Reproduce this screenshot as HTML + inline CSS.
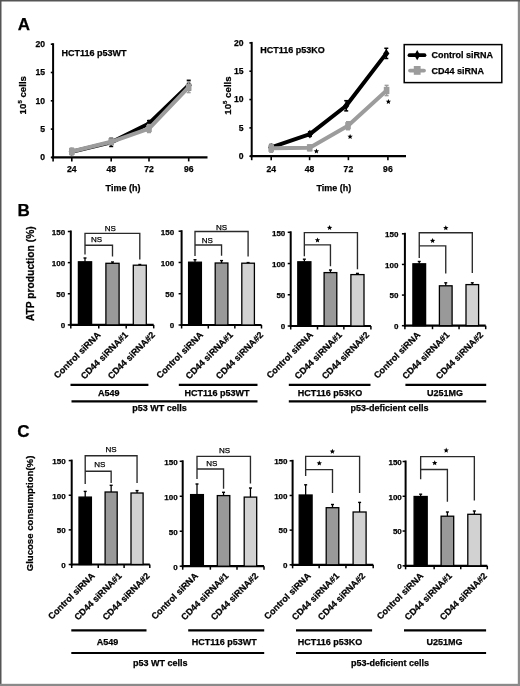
<!DOCTYPE html>
<html><head><meta charset="utf-8"><style>
html,body{margin:0;padding:0;background:#fff;}
body{width:520px;height:686px;overflow:hidden;position:relative;}
svg{position:absolute;left:0;top:0;font-family:"Liberation Sans", sans-serif;will-change:transform;}
</style></head><body>
<svg width="520" height="686" viewBox="0 0 520 686">
<rect x="517.8" y="0" width="2.2" height="686" fill="#8a8a8a"/>
<rect x="0" y="0" width="520" height="1.5" fill="#555"/>
<rect x="0" y="0" width="1.5" height="686" fill="#555"/>
<rect x="0" y="683.8" width="520" height="2.2" fill="#8a8a8a"/>
<text x="17.7" y="30.2" font-size="17" font-weight="700" text-anchor="start" fill="#000" stroke="#000" stroke-width="0.25">A</text>
<text x="17.6" y="216" font-size="17" font-weight="700" text-anchor="start" fill="#000" stroke="#000" stroke-width="0.25">B</text>
<text x="17.2" y="436.5" font-size="17" font-weight="700" text-anchor="start" fill="#000" stroke="#000" stroke-width="0.25">C</text>
<line x1="53.1" y1="43.2" x2="53.1" y2="158.4" stroke="#000" stroke-width="2" stroke-linecap="butt"/>
<line x1="51.6" y1="157.4" x2="207.5" y2="157.4" stroke="#000" stroke-width="2.2" stroke-linecap="butt"/>
<line x1="50.8" y1="157.4" x2="53.1" y2="157.4" stroke="#000" stroke-width="1.6" stroke-linecap="butt"/>
<text x="45.0" y="160.3" font-size="8.6" font-weight="700" text-anchor="end" fill="#000" stroke="#000" stroke-width="0.25">0</text>
<line x1="50.8" y1="129.1" x2="53.1" y2="129.1" stroke="#000" stroke-width="1.6" stroke-linecap="butt"/>
<text x="45.0" y="132.0" font-size="8.6" font-weight="700" text-anchor="end" fill="#000" stroke="#000" stroke-width="0.25">5</text>
<line x1="50.8" y1="100.8" x2="53.1" y2="100.8" stroke="#000" stroke-width="1.6" stroke-linecap="butt"/>
<text x="45.0" y="103.7" font-size="8.6" font-weight="700" text-anchor="end" fill="#000" stroke="#000" stroke-width="0.25">10</text>
<line x1="50.8" y1="72.5" x2="53.1" y2="72.5" stroke="#000" stroke-width="1.6" stroke-linecap="butt"/>
<text x="45.0" y="75.4" font-size="8.6" font-weight="700" text-anchor="end" fill="#000" stroke="#000" stroke-width="0.25">15</text>
<line x1="50.8" y1="44.2" x2="53.1" y2="44.2" stroke="#000" stroke-width="1.6" stroke-linecap="butt"/>
<text x="45.0" y="47.1" font-size="8.6" font-weight="700" text-anchor="end" fill="#000" stroke="#000" stroke-width="0.25">20</text>
<line x1="53.1" y1="157.4" x2="53.1" y2="161.4" stroke="#000" stroke-width="1.6" stroke-linecap="butt"/>
<line x1="71.8" y1="157.4" x2="71.8" y2="161.4" stroke="#000" stroke-width="1.6" stroke-linecap="butt"/>
<line x1="111.2" y1="157.4" x2="111.2" y2="161.4" stroke="#000" stroke-width="1.6" stroke-linecap="butt"/>
<line x1="149.0" y1="157.4" x2="149.0" y2="161.4" stroke="#000" stroke-width="1.6" stroke-linecap="butt"/>
<line x1="188.7" y1="157.4" x2="188.7" y2="161.4" stroke="#000" stroke-width="1.6" stroke-linecap="butt"/>
<text x="71.8" y="171.8" font-size="8.6" font-weight="700" text-anchor="middle" fill="#000" stroke="#000" stroke-width="0.25">24</text>
<text x="111.2" y="171.8" font-size="8.6" font-weight="700" text-anchor="middle" fill="#000" stroke="#000" stroke-width="0.25">48</text>
<text x="149.0" y="171.8" font-size="8.6" font-weight="700" text-anchor="middle" fill="#000" stroke="#000" stroke-width="0.25">72</text>
<text x="188.7" y="171.8" font-size="8.6" font-weight="700" text-anchor="middle" fill="#000" stroke="#000" stroke-width="0.25">96</text>
<text x="123" y="191.3" font-size="9" font-weight="700" text-anchor="middle" fill="#000" stroke="#000" stroke-width="0.25">Time (h)</text>
<text x="25.6" y="95.2" font-size="9.7" font-weight="700" text-anchor="middle" fill="#000" stroke="#000" stroke-width="0.25" transform="rotate(-90 25.6 95.2)">10<tspan font-size="6" dy="-3.6">5</tspan><tspan dy="3.6"> cells</tspan></text>
<text x="61.5" y="56.1" font-size="9" font-weight="700" text-anchor="start" fill="#000" stroke="#000" stroke-width="0.25">HCT116 p53WT</text>
<line x1="111.2" y1="138.33" x2="111.2" y2="146.48" stroke="#000" stroke-width="1.5" stroke-linecap="butt"/>
<line x1="109.2" y1="138.33" x2="113.2" y2="138.33" stroke="#000" stroke-width="1.5" stroke-linecap="butt"/>
<line x1="109.2" y1="146.48" x2="113.2" y2="146.48" stroke="#000" stroke-width="1.5" stroke-linecap="butt"/>
<line x1="149.0" y1="120.61" x2="149.0" y2="126.27" stroke="#000" stroke-width="1.5" stroke-linecap="butt"/>
<line x1="147.0" y1="120.61" x2="151.0" y2="120.61" stroke="#000" stroke-width="1.5" stroke-linecap="butt"/>
<line x1="147.0" y1="126.27" x2="151.0" y2="126.27" stroke="#000" stroke-width="1.5" stroke-linecap="butt"/>
<line x1="188.7" y1="80.31" x2="188.7" y2="90.16" stroke="#000" stroke-width="1.5" stroke-linecap="butt"/>
<line x1="186.7" y1="80.31" x2="190.7" y2="80.31" stroke="#000" stroke-width="1.5" stroke-linecap="butt"/>
<line x1="186.7" y1="90.16" x2="190.7" y2="90.16" stroke="#000" stroke-width="1.5" stroke-linecap="butt"/>
<polyline points="71.8,151.74 111.2,142.4 149.0,123.44 188.7,85.23" fill="none" stroke="#000" stroke-width="4" stroke-linejoin="round"/>
<path d="M71.8 147.44 L74.9 151.74 L71.8 156.04 L68.7 151.74 Z" fill="#000"/>
<path d="M111.2 138.1 L114.3 142.4 L111.2 146.7 L108.1 142.4 Z" fill="#000"/>
<path d="M149.0 119.14 L152.1 123.44 L149.0 127.74 L145.9 123.44 Z" fill="#000"/>
<path d="M188.7 80.94 L191.8 85.23 L188.7 89.53 L185.6 85.23 Z" fill="#000"/>
<line x1="71.8" y1="148.12" x2="71.8" y2="154.91" stroke="#9c9c9c" stroke-width="1.5" stroke-linecap="butt"/>
<line x1="69.8" y1="148.12" x2="73.8" y2="148.12" stroke="#9c9c9c" stroke-width="1.5" stroke-linecap="butt"/>
<line x1="69.8" y1="154.91" x2="73.8" y2="154.91" stroke="#9c9c9c" stroke-width="1.5" stroke-linecap="butt"/>
<line x1="111.2" y1="139.51" x2="111.2" y2="144.04" stroke="#9c9c9c" stroke-width="1.5" stroke-linecap="butt"/>
<line x1="109.2" y1="139.51" x2="113.2" y2="139.51" stroke="#9c9c9c" stroke-width="1.5" stroke-linecap="butt"/>
<line x1="109.2" y1="144.04" x2="113.2" y2="144.04" stroke="#9c9c9c" stroke-width="1.5" stroke-linecap="butt"/>
<line x1="149.0" y1="124.57" x2="149.0" y2="132.5" stroke="#9c9c9c" stroke-width="1.5" stroke-linecap="butt"/>
<line x1="147.0" y1="124.57" x2="151.0" y2="124.57" stroke="#9c9c9c" stroke-width="1.5" stroke-linecap="butt"/>
<line x1="147.0" y1="132.5" x2="151.0" y2="132.5" stroke="#9c9c9c" stroke-width="1.5" stroke-linecap="butt"/>
<line x1="188.7" y1="81.84" x2="188.7" y2="92.59" stroke="#9c9c9c" stroke-width="1.5" stroke-linecap="butt"/>
<line x1="186.7" y1="81.84" x2="190.7" y2="81.84" stroke="#9c9c9c" stroke-width="1.5" stroke-linecap="butt"/>
<line x1="186.7" y1="92.59" x2="190.7" y2="92.59" stroke="#9c9c9c" stroke-width="1.5" stroke-linecap="butt"/>
<polyline points="71.8,151.51 111.2,141.78 149.0,128.53 188.7,87.22" fill="none" stroke="#9c9c9c" stroke-width="4" stroke-linejoin="round"/>
<rect x="69.0" y="147.91" width="5.6" height="7.2" fill="#9c9c9c"/>
<rect x="108.4" y="138.18" width="5.6" height="7.2" fill="#9c9c9c"/>
<rect x="146.2" y="124.93" width="5.6" height="7.2" fill="#9c9c9c"/>
<rect x="185.9" y="83.62" width="5.6" height="7.2" fill="#9c9c9c"/>
<line x1="251.7" y1="41.9" x2="251.7" y2="157.2" stroke="#000" stroke-width="2" stroke-linecap="butt"/>
<line x1="250.2" y1="156.2" x2="406" y2="156.2" stroke="#000" stroke-width="2.2" stroke-linecap="butt"/>
<line x1="249.4" y1="156.2" x2="251.7" y2="156.2" stroke="#000" stroke-width="1.6" stroke-linecap="butt"/>
<text x="243.6" y="159.1" font-size="8.6" font-weight="700" text-anchor="end" fill="#000" stroke="#000" stroke-width="0.25">0</text>
<line x1="249.4" y1="127.88" x2="251.7" y2="127.88" stroke="#000" stroke-width="1.6" stroke-linecap="butt"/>
<text x="243.6" y="130.78" font-size="8.6" font-weight="700" text-anchor="end" fill="#000" stroke="#000" stroke-width="0.25">5</text>
<line x1="249.4" y1="99.55" x2="251.7" y2="99.55" stroke="#000" stroke-width="1.6" stroke-linecap="butt"/>
<text x="243.6" y="102.45" font-size="8.6" font-weight="700" text-anchor="end" fill="#000" stroke="#000" stroke-width="0.25">10</text>
<line x1="249.4" y1="71.22" x2="251.7" y2="71.22" stroke="#000" stroke-width="1.6" stroke-linecap="butt"/>
<text x="243.6" y="74.12" font-size="8.6" font-weight="700" text-anchor="end" fill="#000" stroke="#000" stroke-width="0.25">15</text>
<line x1="249.4" y1="42.9" x2="251.7" y2="42.9" stroke="#000" stroke-width="1.6" stroke-linecap="butt"/>
<text x="243.6" y="45.8" font-size="8.6" font-weight="700" text-anchor="end" fill="#000" stroke="#000" stroke-width="0.25">20</text>
<line x1="251.7" y1="156.2" x2="251.7" y2="160.2" stroke="#000" stroke-width="1.6" stroke-linecap="butt"/>
<line x1="271.2" y1="156.2" x2="271.2" y2="160.2" stroke="#000" stroke-width="1.6" stroke-linecap="butt"/>
<line x1="309.6" y1="156.2" x2="309.6" y2="160.2" stroke="#000" stroke-width="1.6" stroke-linecap="butt"/>
<line x1="348.4" y1="156.2" x2="348.4" y2="160.2" stroke="#000" stroke-width="1.6" stroke-linecap="butt"/>
<line x1="387.9" y1="156.2" x2="387.9" y2="160.2" stroke="#000" stroke-width="1.6" stroke-linecap="butt"/>
<text x="271.2" y="171.8" font-size="8.6" font-weight="700" text-anchor="middle" fill="#000" stroke="#000" stroke-width="0.25">24</text>
<text x="309.6" y="171.8" font-size="8.6" font-weight="700" text-anchor="middle" fill="#000" stroke="#000" stroke-width="0.25">48</text>
<text x="348.4" y="171.8" font-size="8.6" font-weight="700" text-anchor="middle" fill="#000" stroke="#000" stroke-width="0.25">72</text>
<text x="387.9" y="171.8" font-size="8.6" font-weight="700" text-anchor="middle" fill="#000" stroke="#000" stroke-width="0.25">96</text>
<text x="333.8" y="191" font-size="9" font-weight="700" text-anchor="middle" fill="#000" stroke="#000" stroke-width="0.25">Time (h)</text>
<text x="230.6" y="95.5" font-size="9.7" font-weight="700" text-anchor="middle" fill="#000" stroke="#000" stroke-width="0.25" transform="rotate(-90 230.6 95.5)">10<tspan font-size="6" dy="-3.6">5</tspan><tspan dy="3.6"> cells</tspan></text>
<text x="260.2" y="52.6" font-size="9" font-weight="700" text-anchor="start" fill="#000" stroke="#000" stroke-width="0.25">HCT116 p53KO</text>
<line x1="271.2" y1="144.59" x2="271.2" y2="150.25" stroke="#000" stroke-width="1.5" stroke-linecap="butt"/>
<line x1="269.2" y1="144.59" x2="273.2" y2="144.59" stroke="#000" stroke-width="1.5" stroke-linecap="butt"/>
<line x1="269.2" y1="150.25" x2="273.2" y2="150.25" stroke="#000" stroke-width="1.5" stroke-linecap="butt"/>
<line x1="309.9" y1="131.84" x2="309.9" y2="136.37" stroke="#000" stroke-width="1.5" stroke-linecap="butt"/>
<line x1="307.9" y1="131.84" x2="311.9" y2="131.84" stroke="#000" stroke-width="1.5" stroke-linecap="butt"/>
<line x1="307.9" y1="136.37" x2="311.9" y2="136.37" stroke="#000" stroke-width="1.5" stroke-linecap="butt"/>
<line x1="346.2" y1="100.68" x2="346.2" y2="110.88" stroke="#000" stroke-width="1.5" stroke-linecap="butt"/>
<line x1="344.2" y1="100.68" x2="348.2" y2="100.68" stroke="#000" stroke-width="1.5" stroke-linecap="butt"/>
<line x1="344.2" y1="110.88" x2="348.2" y2="110.88" stroke="#000" stroke-width="1.5" stroke-linecap="butt"/>
<line x1="386.3" y1="48.28" x2="386.3" y2="58.48" stroke="#000" stroke-width="1.5" stroke-linecap="butt"/>
<line x1="384.3" y1="48.28" x2="388.3" y2="48.28" stroke="#000" stroke-width="1.5" stroke-linecap="butt"/>
<line x1="384.3" y1="58.48" x2="388.3" y2="58.48" stroke="#000" stroke-width="1.5" stroke-linecap="butt"/>
<polyline points="271.2,147.42 309.9,134.11 346.2,105.78 386.3,53.38" fill="none" stroke="#000" stroke-width="4" stroke-linejoin="round"/>
<path d="M271.2 143.12 L274.3 147.42 L271.2 151.72 L268.1 147.42 Z" fill="#000"/>
<path d="M309.9 129.81 L313.0 134.11 L309.9 138.41 L306.8 134.11 Z" fill="#000"/>
<path d="M346.2 101.48 L349.3 105.78 L346.2 110.08 L343.1 105.78 Z" fill="#000"/>
<path d="M386.3 49.08 L389.4 53.38 L386.3 57.68 L383.2 53.38 Z" fill="#000"/>
<line x1="271.2" y1="144.3" x2="271.2" y2="152.23" stroke="#9c9c9c" stroke-width="1.5" stroke-linecap="butt"/>
<line x1="269.2" y1="144.3" x2="273.2" y2="144.3" stroke="#9c9c9c" stroke-width="1.5" stroke-linecap="butt"/>
<line x1="269.2" y1="152.23" x2="273.2" y2="152.23" stroke="#9c9c9c" stroke-width="1.5" stroke-linecap="butt"/>
<line x1="309.7" y1="144.98" x2="309.7" y2="150.65" stroke="#9c9c9c" stroke-width="1.5" stroke-linecap="butt"/>
<line x1="307.7" y1="144.98" x2="311.7" y2="144.98" stroke="#9c9c9c" stroke-width="1.5" stroke-linecap="butt"/>
<line x1="307.7" y1="150.65" x2="311.7" y2="150.65" stroke="#9c9c9c" stroke-width="1.5" stroke-linecap="butt"/>
<line x1="348.0" y1="121.76" x2="348.0" y2="129.69" stroke="#9c9c9c" stroke-width="1.5" stroke-linecap="butt"/>
<line x1="346.0" y1="121.76" x2="350.0" y2="121.76" stroke="#9c9c9c" stroke-width="1.5" stroke-linecap="butt"/>
<line x1="346.0" y1="129.69" x2="350.0" y2="129.69" stroke="#9c9c9c" stroke-width="1.5" stroke-linecap="butt"/>
<line x1="386.6" y1="85.39" x2="386.6" y2="95.58" stroke="#9c9c9c" stroke-width="1.5" stroke-linecap="butt"/>
<line x1="384.6" y1="85.39" x2="388.6" y2="85.39" stroke="#9c9c9c" stroke-width="1.5" stroke-linecap="butt"/>
<line x1="384.6" y1="95.58" x2="388.6" y2="95.58" stroke="#9c9c9c" stroke-width="1.5" stroke-linecap="butt"/>
<polyline points="271.2,148.27 309.7,147.82 348.0,125.72 386.6,90.49" fill="none" stroke="#9c9c9c" stroke-width="4" stroke-linejoin="round"/>
<rect x="268.4" y="144.67" width="5.6" height="7.2" fill="#9c9c9c"/>
<rect x="306.9" y="144.22" width="5.6" height="7.2" fill="#9c9c9c"/>
<rect x="345.2" y="122.12" width="5.6" height="7.2" fill="#9c9c9c"/>
<rect x="383.8" y="86.89" width="5.6" height="7.2" fill="#9c9c9c"/>
<polygon points="316.40,148.50 317.14,150.28 319.06,150.43 317.60,151.69 318.05,153.57 316.40,152.56 314.75,153.57 315.20,151.69 313.74,150.43 315.66,150.28" fill="#000"/>
<polygon points="350.10,133.90 350.84,135.68 352.76,135.83 351.30,137.09 351.75,138.97 350.10,137.96 348.45,138.97 348.90,137.09 347.44,135.83 349.36,135.68" fill="#000"/>
<polygon points="388.40,98.90 389.14,100.68 391.06,100.83 389.60,102.09 390.05,103.97 388.40,102.96 386.75,103.97 387.20,102.09 385.74,100.83 387.66,100.68" fill="#000"/>
<rect x="404.2" y="44.6" width="97.6" height="38" fill="#fff" stroke="#000" stroke-width="1.5"/>
<line x1="409.5" y1="55.2" x2="424.5" y2="55.2" stroke="#000" stroke-width="3.8" stroke-linecap="round"/>
<path d="M417.2 49.9 L420.1 55.2 L417.2 60.2 L414.3 55.2 Z" fill="#000"/>
<line x1="410" y1="70.6" x2="424" y2="70.6" stroke="#9c9c9c" stroke-width="3.8" stroke-linecap="round"/>
<rect x="413.8" y="66" width="6.8" height="8.8" fill="#9c9c9c"/>
<text x="431.5" y="58.4" font-size="9" font-weight="700" text-anchor="start" fill="#000" stroke="#000" stroke-width="0.25">Control siRNA</text>
<text x="431.5" y="73.9" font-size="9" font-weight="700" text-anchor="start" fill="#000" stroke="#000" stroke-width="0.25">CD44 siRNA</text>
<line x1="70.8" y1="230.5" x2="70.8" y2="325.9" stroke="#000" stroke-width="2" stroke-linecap="butt"/>
<line x1="69.8" y1="324.9" x2="153.7" y2="324.9" stroke="#000" stroke-width="2.2" stroke-linecap="butt"/>
<line x1="67.8" y1="324.9" x2="70.8" y2="324.9" stroke="#000" stroke-width="1.5" stroke-linecap="butt"/>
<text x="65.2" y="328.2" font-size="8" font-weight="700" text-anchor="end" fill="#000" stroke="#000" stroke-width="0.25">0</text>
<line x1="67.8" y1="293.77" x2="70.8" y2="293.77" stroke="#000" stroke-width="1.5" stroke-linecap="butt"/>
<text x="65.2" y="297.07" font-size="8" font-weight="700" text-anchor="end" fill="#000" stroke="#000" stroke-width="0.25">50</text>
<line x1="67.8" y1="262.63" x2="70.8" y2="262.63" stroke="#000" stroke-width="1.5" stroke-linecap="butt"/>
<text x="65.2" y="265.93" font-size="8" font-weight="700" text-anchor="end" fill="#000" stroke="#000" stroke-width="0.25">100</text>
<line x1="67.8" y1="231.5" x2="70.8" y2="231.5" stroke="#000" stroke-width="1.5" stroke-linecap="butt"/>
<text x="65.2" y="234.8" font-size="8" font-weight="700" text-anchor="end" fill="#000" stroke="#000" stroke-width="0.25">150</text>
<line x1="70.8" y1="324.9" x2="70.8" y2="328.4" stroke="#000" stroke-width="1.5" stroke-linecap="butt"/>
<line x1="98.75" y1="324.9" x2="98.75" y2="328.4" stroke="#000" stroke-width="1.5" stroke-linecap="butt"/>
<line x1="126.2" y1="324.9" x2="126.2" y2="328.4" stroke="#000" stroke-width="1.5" stroke-linecap="butt"/>
<line x1="153.7" y1="324.9" x2="153.7" y2="328.4" stroke="#000" stroke-width="1.5" stroke-linecap="butt"/>
<line x1="85.0" y1="258" x2="85.0" y2="261.8" stroke="#000" stroke-width="1.3" stroke-linecap="butt"/>
<line x1="83.5" y1="258" x2="86.5" y2="258" stroke="#000" stroke-width="1.4" stroke-linecap="butt"/>
<rect x="78.4" y="261.8" width="13.2" height="63.1" fill="#000" stroke="#000" stroke-width="1.3"/>
<line x1="112.5" y1="262" x2="112.5" y2="263.3" stroke="#000" stroke-width="1.3" stroke-linecap="butt"/>
<line x1="111.0" y1="262" x2="114.0" y2="262" stroke="#000" stroke-width="1.4" stroke-linecap="butt"/>
<rect x="105.9" y="263.3" width="13.2" height="61.6" fill="#999" stroke="#000" stroke-width="1.3"/>
<line x1="139.8" y1="264.5" x2="139.8" y2="265.2" stroke="#000" stroke-width="1.3" stroke-linecap="butt"/>
<line x1="138.3" y1="264.5" x2="141.3" y2="264.5" stroke="#000" stroke-width="1.4" stroke-linecap="butt"/>
<rect x="133.3" y="265.2" width="13" height="59.7" fill="#d2d2d2" stroke="#000" stroke-width="1.3"/>
<polyline points="85.0,254.6 85.0,233.3 139.8,233.3 139.8,259.4" fill="none" stroke="#2a2a2a" stroke-width="1.35"/>
<polyline points="85.0,245.2 112.5,245.2 112.5,256.5" fill="none" stroke="#2a2a2a" stroke-width="1.35"/>
<text x="110.2" y="230.8" font-size="8" font-weight="400" text-anchor="middle" fill="#000" stroke="#000" stroke-width="0.25">NS</text>
<text x="96.6" y="242.3" font-size="8" font-weight="400" text-anchor="middle" fill="#000" stroke="#000" stroke-width="0.25">NS</text>
<text x="101.1" y="335.5" font-size="9" font-weight="700" text-anchor="end" fill="#000" stroke="#000" stroke-width="0.25" transform="rotate(-45 101.1 335.5)">Control siRNA</text>
<text x="128.6" y="335.5" font-size="9" font-weight="700" text-anchor="end" fill="#000" stroke="#000" stroke-width="0.25" transform="rotate(-45 128.6 335.5)">CD44 siRNA#1</text>
<text x="155.6" y="335.5" font-size="9" font-weight="700" text-anchor="end" fill="#000" stroke="#000" stroke-width="0.25" transform="rotate(-45 155.6 335.5)">CD44 siRNA#2</text>
<line x1="181.6" y1="230.2" x2="181.6" y2="326.0" stroke="#000" stroke-width="2" stroke-linecap="butt"/>
<line x1="180.6" y1="325.0" x2="261.5" y2="325.0" stroke="#000" stroke-width="2.2" stroke-linecap="butt"/>
<line x1="178.6" y1="325.0" x2="181.6" y2="325.0" stroke="#000" stroke-width="1.5" stroke-linecap="butt"/>
<text x="174.2" y="328.3" font-size="8" font-weight="700" text-anchor="end" fill="#000" stroke="#000" stroke-width="0.25">0</text>
<line x1="178.6" y1="293.73" x2="181.6" y2="293.73" stroke="#000" stroke-width="1.5" stroke-linecap="butt"/>
<text x="174.2" y="297.03" font-size="8" font-weight="700" text-anchor="end" fill="#000" stroke="#000" stroke-width="0.25">50</text>
<line x1="178.6" y1="262.47" x2="181.6" y2="262.47" stroke="#000" stroke-width="1.5" stroke-linecap="butt"/>
<text x="174.2" y="265.77" font-size="8" font-weight="700" text-anchor="end" fill="#000" stroke="#000" stroke-width="0.25">100</text>
<line x1="178.6" y1="231.2" x2="181.6" y2="231.2" stroke="#000" stroke-width="1.5" stroke-linecap="butt"/>
<text x="174.2" y="234.5" font-size="8" font-weight="700" text-anchor="end" fill="#000" stroke="#000" stroke-width="0.25">150</text>
<line x1="181.6" y1="325.0" x2="181.6" y2="328.5" stroke="#000" stroke-width="1.5" stroke-linecap="butt"/>
<line x1="208.3" y1="325.0" x2="208.3" y2="328.5" stroke="#000" stroke-width="1.5" stroke-linecap="butt"/>
<line x1="234.85" y1="325.0" x2="234.85" y2="328.5" stroke="#000" stroke-width="1.5" stroke-linecap="butt"/>
<line x1="261.5" y1="325.0" x2="261.5" y2="328.5" stroke="#000" stroke-width="1.5" stroke-linecap="butt"/>
<line x1="195.0" y1="259.7" x2="195.0" y2="262.2" stroke="#000" stroke-width="1.3" stroke-linecap="butt"/>
<line x1="193.5" y1="259.7" x2="196.5" y2="259.7" stroke="#000" stroke-width="1.4" stroke-linecap="butt"/>
<rect x="188.6" y="262.2" width="12.8" height="62.8" fill="#000" stroke="#000" stroke-width="1.3"/>
<line x1="221.55" y1="260.6" x2="221.55" y2="263" stroke="#000" stroke-width="1.3" stroke-linecap="butt"/>
<line x1="220.05" y1="260.6" x2="223.05" y2="260.6" stroke="#000" stroke-width="1.4" stroke-linecap="butt"/>
<rect x="215.2" y="263" width="12.7" height="62.0" fill="#999" stroke="#000" stroke-width="1.3"/>
<line x1="248.1" y1="262.6" x2="248.1" y2="263.2" stroke="#000" stroke-width="1.3" stroke-linecap="butt"/>
<line x1="246.6" y1="262.6" x2="249.6" y2="262.6" stroke="#000" stroke-width="1.4" stroke-linecap="butt"/>
<rect x="241.8" y="263.2" width="12.6" height="61.8" fill="#d2d2d2" stroke="#000" stroke-width="1.3"/>
<polyline points="195.0,256 195.0,231.5 248.1,231.5 248.1,256.5" fill="none" stroke="#2a2a2a" stroke-width="1.35"/>
<polyline points="195.0,245 221.55,245 221.55,255.8" fill="none" stroke="#2a2a2a" stroke-width="1.35"/>
<text x="221.5" y="230.4" font-size="8" font-weight="400" text-anchor="middle" fill="#000" stroke="#000" stroke-width="0.25">NS</text>
<text x="207.2" y="243.1" font-size="8" font-weight="400" text-anchor="middle" fill="#000" stroke="#000" stroke-width="0.25">NS</text>
<text x="203.6" y="335.5" font-size="9" font-weight="700" text-anchor="end" fill="#000" stroke="#000" stroke-width="0.25" transform="rotate(-45 203.6 335.5)">Control siRNA</text>
<text x="233.5" y="335.5" font-size="9" font-weight="700" text-anchor="end" fill="#000" stroke="#000" stroke-width="0.25" transform="rotate(-45 233.5 335.5)">CD44 siRNA#1</text>
<text x="263.8" y="335.5" font-size="9" font-weight="700" text-anchor="end" fill="#000" stroke="#000" stroke-width="0.25" transform="rotate(-45 263.8 335.5)">CD44 siRNA#2</text>
<line x1="290.7" y1="231.3" x2="290.7" y2="327" stroke="#000" stroke-width="2" stroke-linecap="butt"/>
<line x1="289.7" y1="326" x2="370.9" y2="326" stroke="#000" stroke-width="2.2" stroke-linecap="butt"/>
<line x1="287.7" y1="326.0" x2="290.7" y2="326.0" stroke="#000" stroke-width="1.5" stroke-linecap="butt"/>
<text x="285.3" y="329.3" font-size="8" font-weight="700" text-anchor="end" fill="#000" stroke="#000" stroke-width="0.25">0</text>
<line x1="287.7" y1="294.77" x2="290.7" y2="294.77" stroke="#000" stroke-width="1.5" stroke-linecap="butt"/>
<text x="285.3" y="298.07" font-size="8" font-weight="700" text-anchor="end" fill="#000" stroke="#000" stroke-width="0.25">50</text>
<line x1="287.7" y1="263.53" x2="290.7" y2="263.53" stroke="#000" stroke-width="1.5" stroke-linecap="butt"/>
<text x="285.3" y="266.83" font-size="8" font-weight="700" text-anchor="end" fill="#000" stroke="#000" stroke-width="0.25">100</text>
<line x1="287.7" y1="232.3" x2="290.7" y2="232.3" stroke="#000" stroke-width="1.5" stroke-linecap="butt"/>
<text x="285.3" y="235.6" font-size="8" font-weight="700" text-anchor="end" fill="#000" stroke="#000" stroke-width="0.25">150</text>
<line x1="290.7" y1="326" x2="290.7" y2="329.5" stroke="#000" stroke-width="1.5" stroke-linecap="butt"/>
<line x1="317.5" y1="326" x2="317.5" y2="329.5" stroke="#000" stroke-width="1.5" stroke-linecap="butt"/>
<line x1="343.85" y1="326" x2="343.85" y2="329.5" stroke="#000" stroke-width="1.5" stroke-linecap="butt"/>
<line x1="370.9" y1="326" x2="370.9" y2="329.5" stroke="#000" stroke-width="1.5" stroke-linecap="butt"/>
<line x1="304.35" y1="259.2" x2="304.35" y2="261.8" stroke="#000" stroke-width="1.3" stroke-linecap="butt"/>
<line x1="302.85" y1="259.2" x2="305.85" y2="259.2" stroke="#000" stroke-width="1.4" stroke-linecap="butt"/>
<rect x="297.8" y="261.8" width="13.1" height="64.2" fill="#000" stroke="#000" stroke-width="1.3"/>
<line x1="330.45" y1="270" x2="330.45" y2="272.6" stroke="#000" stroke-width="1.3" stroke-linecap="butt"/>
<line x1="328.95" y1="270" x2="331.95" y2="270" stroke="#000" stroke-width="1.4" stroke-linecap="butt"/>
<rect x="324.1" y="272.6" width="12.7" height="53.4" fill="#999" stroke="#000" stroke-width="1.3"/>
<line x1="357.45" y1="273.4" x2="357.45" y2="274.6" stroke="#000" stroke-width="1.3" stroke-linecap="butt"/>
<line x1="355.95" y1="273.4" x2="358.95" y2="273.4" stroke="#000" stroke-width="1.4" stroke-linecap="butt"/>
<rect x="350.9" y="274.6" width="13.1" height="51.4" fill="#d2d2d2" stroke="#000" stroke-width="1.3"/>
<polyline points="304.35,256.2 304.35,232.6 357.45,232.6 357.45,269.2" fill="none" stroke="#2a2a2a" stroke-width="1.35"/>
<polyline points="304.35,244.9 330.45,244.9 330.45,266.2" fill="none" stroke="#2a2a2a" stroke-width="1.35"/>
<polygon points="329.60,225.00 330.34,226.78 332.26,226.93 330.80,228.19 331.25,230.07 329.60,229.06 327.95,230.07 328.40,228.19 326.94,226.93 328.86,226.78" fill="#000"/>
<polygon points="317.50,237.40 318.24,239.18 320.16,239.33 318.70,240.59 319.15,242.47 317.50,241.46 315.85,242.47 316.30,240.59 314.84,239.33 316.76,239.18" fill="#000"/>
<text x="313.7" y="335.5" font-size="9" font-weight="700" text-anchor="end" fill="#000" stroke="#000" stroke-width="0.25" transform="rotate(-45 313.7 335.5)">Control siRNA</text>
<text x="342.5" y="335.5" font-size="9" font-weight="700" text-anchor="end" fill="#000" stroke="#000" stroke-width="0.25" transform="rotate(-45 342.5 335.5)">CD44 siRNA#1</text>
<text x="369.7" y="335.5" font-size="9" font-weight="700" text-anchor="end" fill="#000" stroke="#000" stroke-width="0.25" transform="rotate(-45 369.7 335.5)">CD44 siRNA#2</text>
<line x1="404.9" y1="232.8" x2="404.9" y2="326.7" stroke="#000" stroke-width="2" stroke-linecap="butt"/>
<line x1="403.9" y1="325.7" x2="485.7" y2="325.7" stroke="#000" stroke-width="2.2" stroke-linecap="butt"/>
<line x1="401.9" y1="325.7" x2="404.9" y2="325.7" stroke="#000" stroke-width="1.5" stroke-linecap="butt"/>
<text x="398.4" y="329.0" font-size="8" font-weight="700" text-anchor="end" fill="#000" stroke="#000" stroke-width="0.25">0</text>
<line x1="401.9" y1="295.07" x2="404.9" y2="295.07" stroke="#000" stroke-width="1.5" stroke-linecap="butt"/>
<text x="398.4" y="298.37" font-size="8" font-weight="700" text-anchor="end" fill="#000" stroke="#000" stroke-width="0.25">50</text>
<line x1="401.9" y1="264.43" x2="404.9" y2="264.43" stroke="#000" stroke-width="1.5" stroke-linecap="butt"/>
<text x="398.4" y="267.73" font-size="8" font-weight="700" text-anchor="end" fill="#000" stroke="#000" stroke-width="0.25">100</text>
<line x1="401.9" y1="233.8" x2="404.9" y2="233.8" stroke="#000" stroke-width="1.5" stroke-linecap="butt"/>
<text x="398.4" y="237.1" font-size="8" font-weight="700" text-anchor="end" fill="#000" stroke="#000" stroke-width="0.25">150</text>
<line x1="404.9" y1="325.7" x2="404.9" y2="329.2" stroke="#000" stroke-width="1.5" stroke-linecap="butt"/>
<line x1="432.5" y1="325.7" x2="432.5" y2="329.2" stroke="#000" stroke-width="1.5" stroke-linecap="butt"/>
<line x1="459.05" y1="325.7" x2="459.05" y2="329.2" stroke="#000" stroke-width="1.5" stroke-linecap="butt"/>
<line x1="485.7" y1="325.7" x2="485.7" y2="329.2" stroke="#000" stroke-width="1.5" stroke-linecap="butt"/>
<line x1="419.25" y1="261.5" x2="419.25" y2="263.8" stroke="#000" stroke-width="1.3" stroke-linecap="butt"/>
<line x1="417.75" y1="261.5" x2="420.75" y2="261.5" stroke="#000" stroke-width="1.4" stroke-linecap="butt"/>
<rect x="412.9" y="263.8" width="12.7" height="61.9" fill="#000" stroke="#000" stroke-width="1.3"/>
<line x1="445.75" y1="282.8" x2="445.75" y2="285.8" stroke="#000" stroke-width="1.3" stroke-linecap="butt"/>
<line x1="444.25" y1="282.8" x2="447.25" y2="282.8" stroke="#000" stroke-width="1.4" stroke-linecap="butt"/>
<rect x="439.4" y="285.8" width="12.7" height="39.9" fill="#999" stroke="#000" stroke-width="1.3"/>
<line x1="472.3" y1="282.8" x2="472.3" y2="284.6" stroke="#000" stroke-width="1.3" stroke-linecap="butt"/>
<line x1="470.8" y1="282.8" x2="473.8" y2="282.8" stroke="#000" stroke-width="1.4" stroke-linecap="butt"/>
<rect x="466.0" y="284.6" width="12.6" height="41.1" fill="#d2d2d2" stroke="#000" stroke-width="1.3"/>
<polyline points="419.25,258 419.25,232.7 472.3,232.7 472.3,273" fill="none" stroke="#2a2a2a" stroke-width="1.35"/>
<polyline points="419.25,245.8 445.75,245.8 445.75,273.5" fill="none" stroke="#2a2a2a" stroke-width="1.35"/>
<polygon points="445.80,225.20 446.54,226.98 448.46,227.13 447.00,228.39 447.45,230.27 445.80,229.26 444.15,230.27 444.60,228.39 443.14,227.13 445.06,226.98" fill="#000"/>
<polygon points="432.60,238.00 433.34,239.78 435.26,239.93 433.80,241.19 434.25,243.07 432.60,242.06 430.95,243.07 431.40,241.19 429.94,239.93 431.86,239.78" fill="#000"/>
<text x="420.9" y="335.5" font-size="9" font-weight="700" text-anchor="end" fill="#000" stroke="#000" stroke-width="0.25" transform="rotate(-45 420.9 335.5)">Control siRNA</text>
<text x="450.1" y="335.5" font-size="9" font-weight="700" text-anchor="end" fill="#000" stroke="#000" stroke-width="0.25" transform="rotate(-45 450.1 335.5)">CD44 siRNA#1</text>
<text x="483.8" y="335.5" font-size="9" font-weight="700" text-anchor="end" fill="#000" stroke="#000" stroke-width="0.25" transform="rotate(-45 483.8 335.5)">CD44 siRNA#2</text>
<line x1="71.7" y1="459.6" x2="71.7" y2="565.5" stroke="#000" stroke-width="2" stroke-linecap="butt"/>
<line x1="70.7" y1="564.5" x2="149.8" y2="564.5" stroke="#000" stroke-width="2.2" stroke-linecap="butt"/>
<line x1="68.7" y1="564.5" x2="71.7" y2="564.5" stroke="#000" stroke-width="1.5" stroke-linecap="butt"/>
<text x="65.6" y="567.8" font-size="8" font-weight="700" text-anchor="end" fill="#000" stroke="#000" stroke-width="0.25">0</text>
<line x1="68.7" y1="529.87" x2="71.7" y2="529.87" stroke="#000" stroke-width="1.5" stroke-linecap="butt"/>
<text x="65.6" y="533.17" font-size="8" font-weight="700" text-anchor="end" fill="#000" stroke="#000" stroke-width="0.25">50</text>
<line x1="68.7" y1="495.23" x2="71.7" y2="495.23" stroke="#000" stroke-width="1.5" stroke-linecap="butt"/>
<text x="65.6" y="498.53" font-size="8" font-weight="700" text-anchor="end" fill="#000" stroke="#000" stroke-width="0.25">100</text>
<line x1="68.7" y1="460.6" x2="71.7" y2="460.6" stroke="#000" stroke-width="1.5" stroke-linecap="butt"/>
<text x="65.6" y="463.9" font-size="8" font-weight="700" text-anchor="end" fill="#000" stroke="#000" stroke-width="0.25">150</text>
<line x1="71.7" y1="564.5" x2="71.7" y2="568.0" stroke="#000" stroke-width="1.5" stroke-linecap="butt"/>
<line x1="98.25" y1="564.5" x2="98.25" y2="568.0" stroke="#000" stroke-width="1.5" stroke-linecap="butt"/>
<line x1="124.1" y1="564.5" x2="124.1" y2="568.0" stroke="#000" stroke-width="1.5" stroke-linecap="butt"/>
<line x1="149.8" y1="564.5" x2="149.8" y2="568.0" stroke="#000" stroke-width="1.5" stroke-linecap="butt"/>
<line x1="85.2" y1="491.4" x2="85.2" y2="497.1" stroke="#000" stroke-width="1.3" stroke-linecap="butt"/>
<line x1="83.7" y1="491.4" x2="86.7" y2="491.4" stroke="#000" stroke-width="1.4" stroke-linecap="butt"/>
<rect x="79.0" y="497.1" width="12.4" height="67.4" fill="#000" stroke="#000" stroke-width="1.3"/>
<line x1="111.15" y1="485.3" x2="111.15" y2="492" stroke="#000" stroke-width="1.3" stroke-linecap="butt"/>
<line x1="109.65" y1="485.3" x2="112.65" y2="485.3" stroke="#000" stroke-width="1.4" stroke-linecap="butt"/>
<rect x="105.1" y="492" width="12.1" height="72.5" fill="#999" stroke="#000" stroke-width="1.3"/>
<line x1="137.05" y1="490.6" x2="137.05" y2="493" stroke="#000" stroke-width="1.3" stroke-linecap="butt"/>
<line x1="135.55" y1="490.6" x2="138.55" y2="490.6" stroke="#000" stroke-width="1.4" stroke-linecap="butt"/>
<rect x="131.0" y="493" width="12.1" height="71.5" fill="#d2d2d2" stroke="#000" stroke-width="1.3"/>
<polyline points="85.2,483.9 85.2,455.7 137.05,455.7 137.05,482.9" fill="none" stroke="#2a2a2a" stroke-width="1.35"/>
<polyline points="85.2,471.2 111.15,471.2 111.15,482.9" fill="none" stroke="#2a2a2a" stroke-width="1.35"/>
<text x="111" y="452" font-size="8" font-weight="400" text-anchor="middle" fill="#000" stroke="#000" stroke-width="0.25">NS</text>
<text x="99.8" y="467.3" font-size="8" font-weight="400" text-anchor="middle" fill="#000" stroke="#000" stroke-width="0.25">NS</text>
<text x="95.3" y="576.5" font-size="9" font-weight="700" text-anchor="end" fill="#000" stroke="#000" stroke-width="0.25" transform="rotate(-45 95.3 576.5)">Control siRNA</text>
<text x="122.2" y="576.5" font-size="9" font-weight="700" text-anchor="end" fill="#000" stroke="#000" stroke-width="0.25" transform="rotate(-45 122.2 576.5)">CD44 siRNA#1</text>
<text x="150.4" y="576.5" font-size="9" font-weight="700" text-anchor="end" fill="#000" stroke="#000" stroke-width="0.25" transform="rotate(-45 150.4 576.5)">CD44 siRNA#2</text>
<line x1="182.7" y1="460.3" x2="182.7" y2="567.2" stroke="#000" stroke-width="2" stroke-linecap="butt"/>
<line x1="181.7" y1="566.2" x2="264" y2="566.2" stroke="#000" stroke-width="2.2" stroke-linecap="butt"/>
<line x1="179.7" y1="566.2" x2="182.7" y2="566.2" stroke="#000" stroke-width="1.5" stroke-linecap="butt"/>
<text x="177.7" y="569.5" font-size="8" font-weight="700" text-anchor="end" fill="#000" stroke="#000" stroke-width="0.25">0</text>
<line x1="179.7" y1="531.23" x2="182.7" y2="531.23" stroke="#000" stroke-width="1.5" stroke-linecap="butt"/>
<text x="177.7" y="534.53" font-size="8" font-weight="700" text-anchor="end" fill="#000" stroke="#000" stroke-width="0.25">50</text>
<line x1="179.7" y1="496.27" x2="182.7" y2="496.27" stroke="#000" stroke-width="1.5" stroke-linecap="butt"/>
<text x="177.7" y="499.57" font-size="8" font-weight="700" text-anchor="end" fill="#000" stroke="#000" stroke-width="0.25">100</text>
<line x1="179.7" y1="461.3" x2="182.7" y2="461.3" stroke="#000" stroke-width="1.5" stroke-linecap="butt"/>
<text x="177.7" y="464.6" font-size="8" font-weight="700" text-anchor="end" fill="#000" stroke="#000" stroke-width="0.25">150</text>
<line x1="182.7" y1="566.2" x2="182.7" y2="569.7" stroke="#000" stroke-width="1.5" stroke-linecap="butt"/>
<line x1="210.35" y1="566.2" x2="210.35" y2="569.7" stroke="#000" stroke-width="1.5" stroke-linecap="butt"/>
<line x1="237.0" y1="566.2" x2="237.0" y2="569.7" stroke="#000" stroke-width="1.5" stroke-linecap="butt"/>
<line x1="264" y1="566.2" x2="264" y2="569.7" stroke="#000" stroke-width="1.5" stroke-linecap="butt"/>
<line x1="197.0" y1="484" x2="197.0" y2="494.6" stroke="#000" stroke-width="1.3" stroke-linecap="butt"/>
<line x1="195.5" y1="484" x2="198.5" y2="484" stroke="#000" stroke-width="1.4" stroke-linecap="butt"/>
<rect x="190.6" y="494.6" width="12.8" height="71.6" fill="#000" stroke="#000" stroke-width="1.3"/>
<line x1="223.55" y1="492.3" x2="223.55" y2="495.6" stroke="#000" stroke-width="1.3" stroke-linecap="butt"/>
<line x1="222.05" y1="492.3" x2="225.05" y2="492.3" stroke="#000" stroke-width="1.4" stroke-linecap="butt"/>
<rect x="217.3" y="495.6" width="12.5" height="70.6" fill="#999" stroke="#000" stroke-width="1.3"/>
<line x1="250.45" y1="488" x2="250.45" y2="497.1" stroke="#000" stroke-width="1.3" stroke-linecap="butt"/>
<line x1="248.95" y1="488" x2="251.95" y2="488" stroke="#000" stroke-width="1.4" stroke-linecap="butt"/>
<rect x="244.2" y="497.1" width="12.5" height="69.1" fill="#d2d2d2" stroke="#000" stroke-width="1.3"/>
<polyline points="197.0,479 197.0,456.3 250.45,456.3 250.45,483.4" fill="none" stroke="#2a2a2a" stroke-width="1.35"/>
<polyline points="197.0,469 223.55,469 223.55,488.7" fill="none" stroke="#2a2a2a" stroke-width="1.35"/>
<text x="224.5" y="453" font-size="8" font-weight="400" text-anchor="middle" fill="#000" stroke="#000" stroke-width="0.25">NS</text>
<text x="211.8" y="466.1" font-size="8" font-weight="400" text-anchor="middle" fill="#000" stroke="#000" stroke-width="0.25">NS</text>
<text x="198.5" y="576.5" font-size="9" font-weight="700" text-anchor="end" fill="#000" stroke="#000" stroke-width="0.25" transform="rotate(-45 198.5 576.5)">Control siRNA</text>
<text x="229.0" y="576.5" font-size="9" font-weight="700" text-anchor="end" fill="#000" stroke="#000" stroke-width="0.25" transform="rotate(-45 229.0 576.5)">CD44 siRNA#1</text>
<text x="258.7" y="576.5" font-size="9" font-weight="700" text-anchor="end" fill="#000" stroke="#000" stroke-width="0.25" transform="rotate(-45 258.7 576.5)">CD44 siRNA#2</text>
<line x1="292.6" y1="459.8" x2="292.6" y2="565.8" stroke="#000" stroke-width="2" stroke-linecap="butt"/>
<line x1="291.6" y1="564.8" x2="373.2" y2="564.8" stroke="#000" stroke-width="2.2" stroke-linecap="butt"/>
<line x1="289.6" y1="564.8" x2="292.6" y2="564.8" stroke="#000" stroke-width="1.5" stroke-linecap="butt"/>
<text x="287.5" y="568.1" font-size="8" font-weight="700" text-anchor="end" fill="#000" stroke="#000" stroke-width="0.25">0</text>
<line x1="289.6" y1="530.13" x2="292.6" y2="530.13" stroke="#000" stroke-width="1.5" stroke-linecap="butt"/>
<text x="287.5" y="533.43" font-size="8" font-weight="700" text-anchor="end" fill="#000" stroke="#000" stroke-width="0.25">50</text>
<line x1="289.6" y1="495.47" x2="292.6" y2="495.47" stroke="#000" stroke-width="1.5" stroke-linecap="butt"/>
<text x="287.5" y="498.77" font-size="8" font-weight="700" text-anchor="end" fill="#000" stroke="#000" stroke-width="0.25">100</text>
<line x1="289.6" y1="460.8" x2="292.6" y2="460.8" stroke="#000" stroke-width="1.5" stroke-linecap="butt"/>
<text x="287.5" y="464.1" font-size="8" font-weight="700" text-anchor="end" fill="#000" stroke="#000" stroke-width="0.25">150</text>
<line x1="292.6" y1="564.8" x2="292.6" y2="568.3" stroke="#000" stroke-width="1.5" stroke-linecap="butt"/>
<line x1="319.15" y1="564.8" x2="319.15" y2="568.3" stroke="#000" stroke-width="1.5" stroke-linecap="butt"/>
<line x1="345.95" y1="564.8" x2="345.95" y2="568.3" stroke="#000" stroke-width="1.5" stroke-linecap="butt"/>
<line x1="373.2" y1="564.8" x2="373.2" y2="568.3" stroke="#000" stroke-width="1.5" stroke-linecap="butt"/>
<line x1="305.65" y1="484.8" x2="305.65" y2="495" stroke="#000" stroke-width="1.3" stroke-linecap="butt"/>
<line x1="304.15" y1="484.8" x2="307.15" y2="484.8" stroke="#000" stroke-width="1.4" stroke-linecap="butt"/>
<rect x="299.2" y="495" width="12.9" height="69.8" fill="#000" stroke="#000" stroke-width="1.3"/>
<line x1="332.5" y1="504.5" x2="332.5" y2="507.7" stroke="#000" stroke-width="1.3" stroke-linecap="butt"/>
<line x1="331.0" y1="504.5" x2="334.0" y2="504.5" stroke="#000" stroke-width="1.4" stroke-linecap="butt"/>
<rect x="326.2" y="507.7" width="12.6" height="57.1" fill="#999" stroke="#000" stroke-width="1.3"/>
<line x1="359.6" y1="502.4" x2="359.6" y2="512" stroke="#000" stroke-width="1.3" stroke-linecap="butt"/>
<line x1="358.1" y1="502.4" x2="361.1" y2="502.4" stroke="#000" stroke-width="1.4" stroke-linecap="butt"/>
<rect x="353.1" y="512" width="13" height="52.8" fill="#d2d2d2" stroke="#000" stroke-width="1.3"/>
<polyline points="305.65,476 305.65,456.3 359.6,456.3 359.6,492.9" fill="none" stroke="#2a2a2a" stroke-width="1.35"/>
<polyline points="305.65,469.6 332.5,469.6 332.5,492.9" fill="none" stroke="#2a2a2a" stroke-width="1.35"/>
<polygon points="332.40,448.80 333.14,450.58 335.06,450.73 333.60,451.99 334.05,453.87 332.40,452.86 330.75,453.87 331.20,451.99 329.74,450.73 331.66,450.58" fill="#000"/>
<polygon points="319.30,460.50 320.04,462.28 321.96,462.43 320.50,463.69 320.95,465.57 319.30,464.56 317.65,465.57 318.10,463.69 316.64,462.43 318.56,462.28" fill="#000"/>
<text x="311.3" y="576.5" font-size="9" font-weight="700" text-anchor="end" fill="#000" stroke="#000" stroke-width="0.25" transform="rotate(-45 311.3 576.5)">Control siRNA</text>
<text x="339.8" y="576.5" font-size="9" font-weight="700" text-anchor="end" fill="#000" stroke="#000" stroke-width="0.25" transform="rotate(-45 339.8 576.5)">CD44 siRNA#1</text>
<text x="365.8" y="576.5" font-size="9" font-weight="700" text-anchor="end" fill="#000" stroke="#000" stroke-width="0.25" transform="rotate(-45 365.8 576.5)">CD44 siRNA#2</text>
<line x1="405.6" y1="460.5" x2="405.6" y2="566.8" stroke="#000" stroke-width="2" stroke-linecap="butt"/>
<line x1="404.6" y1="565.8" x2="487.3" y2="565.8" stroke="#000" stroke-width="2.2" stroke-linecap="butt"/>
<line x1="402.6" y1="565.8" x2="405.6" y2="565.8" stroke="#000" stroke-width="1.5" stroke-linecap="butt"/>
<text x="401.8" y="569.1" font-size="8" font-weight="700" text-anchor="end" fill="#000" stroke="#000" stroke-width="0.25">0</text>
<line x1="402.6" y1="531.03" x2="405.6" y2="531.03" stroke="#000" stroke-width="1.5" stroke-linecap="butt"/>
<text x="401.8" y="534.33" font-size="8" font-weight="700" text-anchor="end" fill="#000" stroke="#000" stroke-width="0.25">50</text>
<line x1="402.6" y1="496.27" x2="405.6" y2="496.27" stroke="#000" stroke-width="1.5" stroke-linecap="butt"/>
<text x="401.8" y="499.57" font-size="8" font-weight="700" text-anchor="end" fill="#000" stroke="#000" stroke-width="0.25">100</text>
<line x1="402.6" y1="461.5" x2="405.6" y2="461.5" stroke="#000" stroke-width="1.5" stroke-linecap="butt"/>
<text x="401.8" y="464.8" font-size="8" font-weight="700" text-anchor="end" fill="#000" stroke="#000" stroke-width="0.25">150</text>
<line x1="405.6" y1="565.8" x2="405.6" y2="569.3" stroke="#000" stroke-width="1.5" stroke-linecap="butt"/>
<line x1="434.15" y1="565.8" x2="434.15" y2="569.3" stroke="#000" stroke-width="1.5" stroke-linecap="butt"/>
<line x1="460.75" y1="565.8" x2="460.75" y2="569.3" stroke="#000" stroke-width="1.5" stroke-linecap="butt"/>
<line x1="487.3" y1="565.8" x2="487.3" y2="569.3" stroke="#000" stroke-width="1.5" stroke-linecap="butt"/>
<line x1="420.65" y1="494.2" x2="420.65" y2="496.5" stroke="#000" stroke-width="1.3" stroke-linecap="butt"/>
<line x1="419.15" y1="494.2" x2="422.15" y2="494.2" stroke="#000" stroke-width="1.4" stroke-linecap="butt"/>
<rect x="414.1" y="496.5" width="13.1" height="69.3" fill="#000" stroke="#000" stroke-width="1.3"/>
<line x1="447.4" y1="512" x2="447.4" y2="516.2" stroke="#000" stroke-width="1.3" stroke-linecap="butt"/>
<line x1="445.9" y1="512" x2="448.9" y2="512" stroke="#000" stroke-width="1.4" stroke-linecap="butt"/>
<rect x="441.1" y="516.2" width="12.6" height="49.6" fill="#999" stroke="#000" stroke-width="1.3"/>
<line x1="474.35" y1="511" x2="474.35" y2="514.3" stroke="#000" stroke-width="1.3" stroke-linecap="butt"/>
<line x1="472.85" y1="511" x2="475.85" y2="511" stroke="#000" stroke-width="1.4" stroke-linecap="butt"/>
<rect x="467.8" y="514.3" width="13.1" height="51.5" fill="#d2d2d2" stroke="#000" stroke-width="1.3"/>
<polyline points="420.65,479.2 420.65,456.6 474.35,456.6 474.35,500.5" fill="none" stroke="#2a2a2a" stroke-width="1.35"/>
<polyline points="420.65,469.5 447.4,469.5 447.4,501.8" fill="none" stroke="#2a2a2a" stroke-width="1.35"/>
<polygon points="446.20,447.60 446.94,449.38 448.86,449.53 447.40,450.79 447.85,452.67 446.20,451.66 444.55,452.67 445.00,450.79 443.54,449.53 445.46,449.38" fill="#000"/>
<polygon points="434.70,460.30 435.44,462.08 437.36,462.23 435.90,463.49 436.35,465.37 434.70,464.36 433.05,465.37 433.50,463.49 432.04,462.23 433.96,462.08" fill="#000"/>
<text x="423.9" y="576.5" font-size="9" font-weight="700" text-anchor="end" fill="#000" stroke="#000" stroke-width="0.25" transform="rotate(-45 423.9 576.5)">Control siRNA</text>
<text x="452.5" y="576.5" font-size="9" font-weight="700" text-anchor="end" fill="#000" stroke="#000" stroke-width="0.25" transform="rotate(-45 452.5 576.5)">CD44 siRNA#1</text>
<text x="487.6" y="576.5" font-size="9" font-weight="700" text-anchor="end" fill="#000" stroke="#000" stroke-width="0.25" transform="rotate(-45 487.6 576.5)">CD44 siRNA#2</text>
<text x="33.6" y="273.7" font-size="10.25" font-weight="700" text-anchor="middle" fill="#000" stroke="#000" stroke-width="0.25" transform="rotate(-90 33.6 273.7)">ATP production (%)</text>
<text x="33.0" y="513.5" font-size="9.6" font-weight="700" text-anchor="middle" fill="#000" stroke="#000" stroke-width="0.25" transform="rotate(-90 33.0 513.5)">Glucose consumption(%)</text>
<line x1="70.5" y1="384.9" x2="148.4" y2="384.9" stroke="#000" stroke-width="2.2" stroke-linecap="butt"/>
<text x="108.65" y="395.8" font-size="9" font-weight="700" text-anchor="middle" fill="#000" stroke="#000" stroke-width="0.25">A549</text>
<line x1="178.8" y1="384.9" x2="257.5" y2="384.9" stroke="#000" stroke-width="2.2" stroke-linecap="butt"/>
<text x="217.05" y="395.8" font-size="9" font-weight="700" text-anchor="middle" fill="#000" stroke="#000" stroke-width="0.25">HCT116 p53WT</text>
<line x1="71.5" y1="401.3" x2="257.5" y2="401.3" stroke="#000" stroke-width="2.2" stroke-linecap="butt"/>
<text x="159.5" y="411.2" font-size="9" font-weight="700" text-anchor="middle" fill="#000" stroke="#000" stroke-width="0.25">p53 WT cells</text>
<line x1="288.8" y1="384.9" x2="370.5" y2="384.9" stroke="#000" stroke-width="2.2" stroke-linecap="butt"/>
<text x="330" y="395.8" font-size="9" font-weight="700" text-anchor="middle" fill="#000" stroke="#000" stroke-width="0.25">HCT116 p53KO</text>
<line x1="405.4" y1="384.9" x2="486.2" y2="384.9" stroke="#000" stroke-width="2.2" stroke-linecap="butt"/>
<text x="445" y="395.8" font-size="9" font-weight="700" text-anchor="middle" fill="#000" stroke="#000" stroke-width="0.25">U251MG</text>
<line x1="288.8" y1="401.3" x2="486.2" y2="401.3" stroke="#000" stroke-width="2.2" stroke-linecap="butt"/>
<text x="389.6" y="411.2" font-size="9" font-weight="700" text-anchor="middle" fill="#000" stroke="#000" stroke-width="0.25">p53-deficient cells</text>
<line x1="71.3" y1="630.4" x2="146.5" y2="630.4" stroke="#000" stroke-width="2.2" stroke-linecap="butt"/>
<text x="107.6" y="644.7" font-size="9" font-weight="700" text-anchor="middle" fill="#000" stroke="#000" stroke-width="0.25">A549</text>
<line x1="188.2" y1="630.4" x2="264.2" y2="630.4" stroke="#000" stroke-width="2.2" stroke-linecap="butt"/>
<text x="224.2" y="644.7" font-size="9" font-weight="700" text-anchor="middle" fill="#000" stroke="#000" stroke-width="0.25">HCT116 p53WT</text>
<line x1="71.3" y1="653" x2="264.2" y2="653" stroke="#000" stroke-width="2.2" stroke-linecap="butt"/>
<text x="160.2" y="665.8" font-size="9" font-weight="700" text-anchor="middle" fill="#000" stroke="#000" stroke-width="0.25">p53 WT cells</text>
<line x1="296" y1="630.4" x2="372.1" y2="630.4" stroke="#000" stroke-width="2.2" stroke-linecap="butt"/>
<text x="330.1" y="644.7" font-size="9" font-weight="700" text-anchor="middle" fill="#000" stroke="#000" stroke-width="0.25">HCT116 p53KO</text>
<line x1="404" y1="630.4" x2="486.1" y2="630.4" stroke="#000" stroke-width="2.2" stroke-linecap="butt"/>
<text x="444.6" y="644.7" font-size="9" font-weight="700" text-anchor="middle" fill="#000" stroke="#000" stroke-width="0.25">U251MG</text>
<line x1="296" y1="653" x2="486.1" y2="653" stroke="#000" stroke-width="2.2" stroke-linecap="butt"/>
<text x="390.1" y="665.8" font-size="9" font-weight="700" text-anchor="middle" fill="#000" stroke="#000" stroke-width="0.25">p53-deficient cells</text>
</svg>
</body></html>
